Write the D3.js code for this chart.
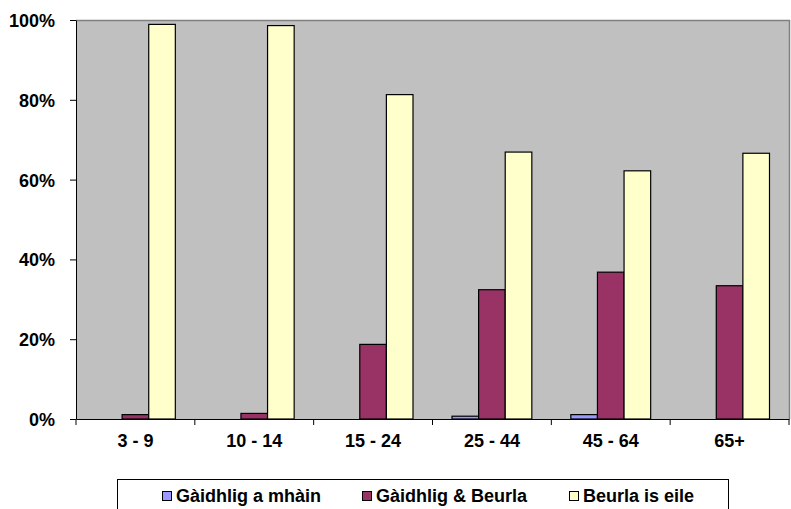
<!DOCTYPE html>
<html><head><meta charset="utf-8">
<script src="https://cdn.jsdelivr.net/npm/d3@7"></script>
<style>body{margin:0;background:#fff}svg{display:block}text{font-family:"Liberation Sans",Arial,sans-serif;font-weight:bold}</style>
</head><body>
<svg id="c" width="791" height="509"></svg>
<script>
const categories = ["3 - 9","10 - 14","15 - 24","25 - 44","45 - 64","65+"];
const seriesNames = ["Gàidhlig a mhàin","Gàidhlig & Beurla","Beurla is eile"];
const gaidhligOnly = [0, 0, 0, 0.7, 1.1, 0];
const gaidhligBeurla = [1.1, 1.4, 18.7, 32.4, 36.8, 33.4];
const beurlaOnly = [98.9, 98.6, 81.3, 66.9, 62.2, 66.6];
const yTicks = [0, 20, 40, 60, 80, 100];
const colors = ["#9999FF", "#993366", "#FFFFCC"];

const seriesValues = [gaidhligOnly, gaidhligBeurla, beurlaOnly];
const svg = d3.select("#c");
const L = 76, R = 789, T = 20, B = 419;

svg.append("rect").attr("x", L).attr("y", T).attr("width", R - L).attr("height", B - T)
  .attr("fill", "#C0C0C0").attr("stroke", "none");
svg.append("path").attr("d", `M${L},${T+0.5}H${R+0.5}V${B}`).attr("fill","none").attr("stroke","#808080").attr("stroke-width",1.5);

const x0 = d3.scaleBand().domain(categories).range([L, R]).padding(0);
const x1 = d3.scaleBand().domain(seriesNames).range([0, x0.bandwidth()]).paddingInner(0).paddingOuter(0.733);
const y = d3.scaleLinear().domain([0, 100]).range([B, T]);

const data = [];
categories.forEach((c, i) => seriesNames.forEach((s, j) => data.push({c, s, j, v: seriesValues[j][i]})));

svg.append("g").selectAll("rect").data(data.filter(d => d.v > 0)).join("rect")
  .attr("x", d => x0(d.c) + x1(d.s))
  .attr("y", d => y(d.v))
  .attr("width", x1.bandwidth())
  .attr("height", d => B - y(d.v))
  .attr("fill", d => colors[d.j])
  .attr("stroke", "#000").attr("stroke-width", 1.2);

const FS = 18;
// Y axis
const yAxis = svg.append("g").attr("transform", `translate(${L},0)`)
  .call(d3.axisLeft(y).tickValues(yTicks).tickFormat(d => d + "%").tickSize(6).tickSizeOuter(0));
yAxis.select(".domain").attr("stroke", "#000").attr("stroke-width", 1);
yAxis.selectAll(".tick line").attr("stroke", "#000");
yAxis.selectAll("text").attr("font-size", FS).attr("x", -21).attr("dy", "0.36em").attr("fill", "#000")
  .style("font-family", '"Liberation Sans",Arial,sans-serif').style("font-weight", "bold");

// X axis
const xAxis = svg.append("g").attr("transform", `translate(0,${B})`)
  .call(d3.axisBottom(x0).tickSize(0).tickSizeOuter(0));
xAxis.select(".domain").attr("stroke", "#000");
xAxis.selectAll("text").attr("font-size", FS).attr("y", 28).attr("dy", 0).attr("fill", "#000")
  .style("font-family", '"Liberation Sans",Arial,sans-serif').style("font-weight", "bold");
const bounds = categories.map(c => x0(c)).concat([x0(categories[categories.length - 1]) + x0.bandwidth()]);
svg.append("g").selectAll("line").data(bounds).join("line")
  .attr("x1", d => d).attr("x2", d => d).attr("y1", B).attr("y2", B + 6).attr("stroke", "#000");

// Legend
const lg = svg.append("g");
lg.append("rect").attr("x", 117.5).attr("y", 479.5).attr("width", 611).attr("height", 60)
  .attr("fill", "#fff").attr("stroke", "#000").attr("stroke-width", 1);
const legX = [162, 362, 569];
seriesNames.forEach((s, j) => {
  lg.append("rect").attr("x", legX[j] + 0.5).attr("y", 491.5).attr("width", 9).attr("height", 9)
    .attr("fill", colors[j]).attr("stroke", "#000").attr("stroke-width", 1);
  lg.append("text").attr("x", legX[j] + 14).attr("y", 502).attr("font-size", FS).attr("fill", "#000").text(s);
});
</script>
</body></html>
